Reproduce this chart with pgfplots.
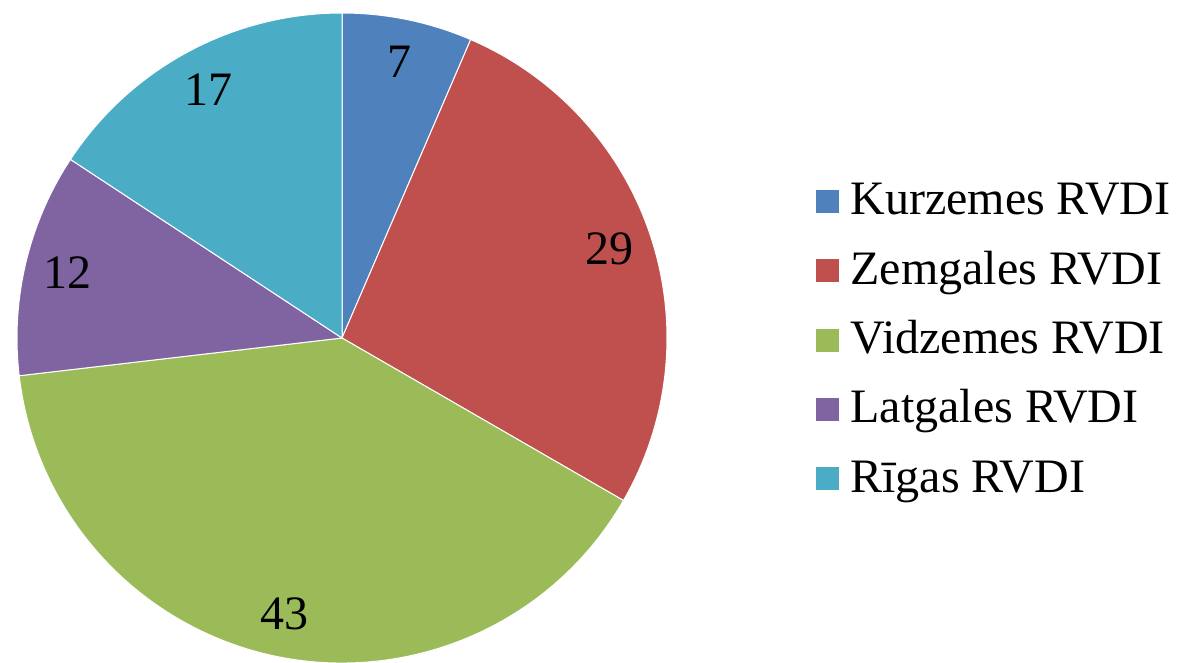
\documentclass[border=0pt]{standalone}
\usepackage{pgfplots}
\pgfplotsset{compat=1.18}
\usepackage{pgfplotstable}
\usetikzlibrary{calc}
\usepackage{fontspec}
\setmainfont{Liberation Serif}
\definecolor{c0}{HTML}{4F81BD}
\definecolor{c1}{HTML}{C0504D}
\definecolor{c2}{HTML}{9BBB59}
\definecolor{c3}{HTML}{8064A2}
\definecolor{c4}{HTML}{4BACC6}
\newcommand\lbl{\fontsize{24}{28}\selectfont}

\pgfplotstableread[col sep=comma]{
name,value
Kurzemes RVDI,7
Zemgales RVDI,29
Vidzemes RVDI,43
Latgales RVDI,12
Rīgas RVDI,17
}\piedata

\begin{document}
\begin{tikzpicture}
\path[use as bounding box] (0,0) rectangle (590pt,331.5pt);
% slice angles, clockwise from the top
\gdef\total{0}
\foreach \i in {0,...,4}{%
  \pgfplotstablegetelem{\i}{value}\of\piedata
  \pgfmathparse{\total+\pgfplotsretval}\xdef\total{\pgfmathresult}}
\gdef\acc{0}
\foreach \i in {0,...,4}{%
  \pgfplotstablegetelem{\i}{value}\of\piedata
  \let\val\pgfplotsretval
  \expandafter\xdef\csname val\i\endcsname{\val}%
  \pgfmathparse{90-360*(\acc/\total)}\expandafter\xdef\csname sa\i\endcsname{\pgfmathresult}%
  \pgfmathparse{\acc+\val}\xdef\acc{\pgfmathresult}%
  \pgfmathparse{90-360*(\acc/\total)}\expandafter\xdef\csname ea\i\endcsname{\pgfmathresult}%
  \pgfplotstablegetelem{\i}{name}\of\piedata
  \expandafter\xdef\csname nm\i\endcsname{\pgfplotsretval}}
\begin{axis}[x=0.5pt, y=0.5pt, xmin=0, xmax=1180, ymin=0, ymax=663,
  y dir=reverse, hide axis, scale only axis, clip=false, font=\lbl,
  anchor=south west, at={(0,0)}]
\pgfplotsinvokeforeach{0,...,4}{
  \fill[c#1, draw=white, line width=0.5pt] (axis cs:342,338)
    -- ++({\csname sa#1\endcsname}:162.5pt)
    arc[start angle=\csname sa#1\endcsname, end angle=\csname ea#1\endcsname, radius=162.5pt] -- cycle;
}
\pgfplotsinvokeforeach{0,...,4}{
  \node[inner sep=0pt] at ($(axis cs:342,338)+({(\csname sa#1\endcsname+\csname ea#1\endcsname)/2}:141pt)$) {\csname val#1\endcsname};
  \fill[c#1] (axis cs:816,{190+69.3*#1}) rectangle (axis cs:839,{213+69.3*#1});
  \node[anchor=base west, inner sep=0pt] at (axis cs:850,{215+69.3*#1}) {\csname nm#1\endcsname};
}
\end{axis}
\end{tikzpicture}
\end{document}
